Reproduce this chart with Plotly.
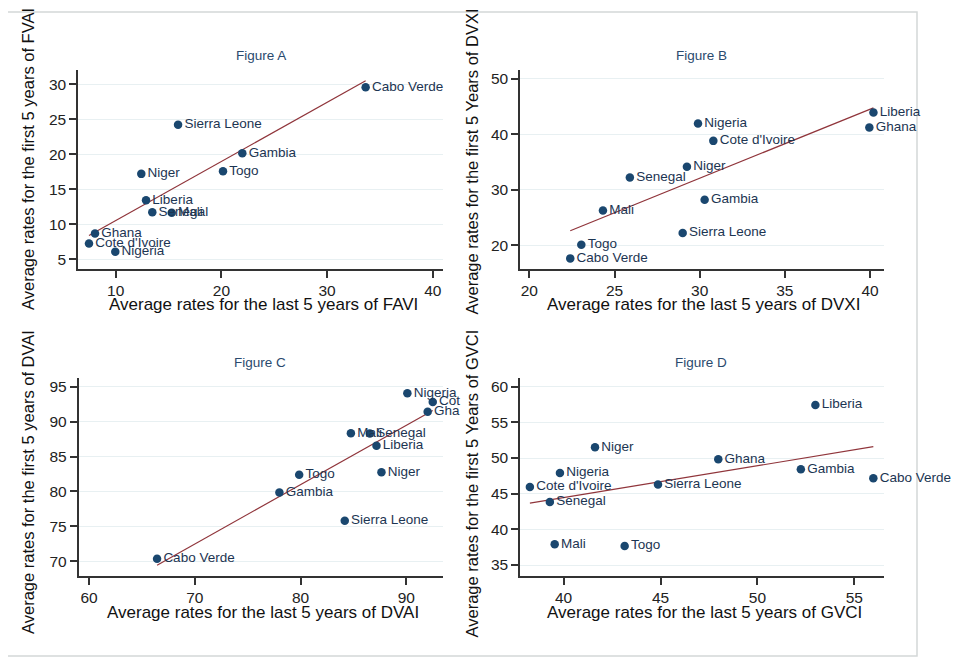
import numpy as np
import plotly.graph_objects as go

# page has an 8px body margin, so the figure is placed at (8, 8)
OFF = 8
W, H = 959 - OFF, 657 - OFF

# ---------------- data ----------------
countries = ["Cabo Verde", "Cote d'Ivoire", "Gambia", "Ghana", "Liberia", "Mali",
             "Niger", "Nigeria", "Senegal", "Sierra Leone", "Togo"]

# Figure A: FAVI (last 5 years) vs FVAI (first 5 years)
favi_last = [33.65, 7.47, 21.98, 8.04, 12.87, 15.3, 12.42, 9.96, 13.46, 15.9, 20.15]
fvai_first = [29.57, 7.24, 20.14, 8.67, 13.43, 11.65, 17.2, 6.09, 11.71, 24.23, 17.57]

# Figure B: DVXI
dvxi_last = [22.4, 30.8, 30.29, 39.96, 40.2, 24.32, 29.25, 29.9, 25.9, 29.0, 23.05]
dvxi_first = [17.66, 38.8, 28.2, 41.2, 43.9, 26.27, 34.14, 41.93, 32.2, 22.23, 20.13]

# Figure C: DVAI
dvai_last = [66.43, 92.5, 78.0, 92.02, 87.18, 84.76, 87.65, 90.1, 86.55, 84.18, 79.87]
dvai_first = [70.37, 92.8, 79.86, 91.43, 86.56, 88.34, 82.77, 94.05, 88.3, 75.8, 82.38]
labels_c = ["Cabo Verde", "Cot", "Gambia", "Gha", "Liberia", "Mali",
            "Niger", "Nigeria", "Senegal", "Sierra Leone", "Togo"]

# Figure D: GVCI
gvci_last = [55.98, 38.26, 52.24, 47.98, 52.99, 39.54, 41.62, 39.81, 39.29, 44.87, 43.15]
gvci_first = [47.15, 45.93, 48.42, 49.82, 57.44, 37.9, 51.5, 47.89, 43.82, 46.3, 37.66]

panel_titles = ["Figure A", "Figure B", "Figure C", "Figure D"]
x_titles = ["Average rates for the last 5 years of FAVI",
            "Average rates for the last 5 years of DVXI",
            "Average rates for the last 5 years of DVAI",
            "Average rates for the last 5 years of GVCI"]
y_titles = ["Average rates for the first 5 years of FVAI",
            "Average rates for the first 5 Years of DVXI",
            "Average rates for the first 5 years of DVAI",
            "Average rates for the first 5 Years of GVCI"]
x_ticks = [[10, 20, 30, 40], [20, 25, 30, 35, 40], [60, 70, 80, 90], [40, 45, 50, 55]]
y_ticks = [[5, 10, 15, 20, 25, 30], [20, 30, 40, 50], [70, 75, 80, 85, 90, 95],
           [35, 40, 45, 50, 55, 60]]

# ---------------- layout helpers (page pixel -> paper) ----------------
def px(x):
    return (x - OFF) / W

def py(y):
    return 1 - (y - OFF) / H

NAVY = "#1a476f"
LINE = "#90353b"
FONT = "Liberation Sans, Arial, sans-serif"

panels = [
    dict(x=favi_last, y=fvai_first, lab=countries,
         xr=[6.43, 40.97], yr=[3.61, 32.04],
         xd=[px(78), px(443)], yd=[py(269), py(70)],
         title=(261, 55), xt=(263, 304), yt=(28, 159)),
    dict(x=dvxi_last, y=dvxi_first, lab=countries,
         xr=[19.45, 40.82], yr=[15.75, 51.55],
         xd=[px(520), px(884)], yd=[py(269), py(70)],
         title=(701, 55), xt=(703, 304), yt=(471.5, 162)),
    dict(x=dvai_last, y=dvai_first, lab=labels_c,
         xr=[59.0, 93.47], yr=[67.9, 96.29],
         xd=[px(78.5), px(443)], yd=[py(576), py(377.7)],
         title=(260, 362), xt=(262.5, 612), yt=(28, 482)),
    dict(x=gvci_last, y=gvci_first, lab=countries,
         xr=[37.75, 56.53], yr=[33.46, 61.26],
         xd=[px(520), px(884)], yd=[py(576), py(377.7)],
         title=(701, 362), xt=(704, 612), yt=(471.5, 484)),
]

fig = go.Figure()
annotations = []
layout_axes = {}

for i, p in enumerate(panels):
    n = "" if i == 0 else str(i + 1)
    xa, ya = "x" + n, "y" + n
    xs = np.array(p["x"], dtype=float)
    ys = np.array(p["y"], dtype=float)
    b1, b0 = np.polyfit(xs, ys, 1)
    xl = np.array([xs.min(), xs.max()])
    fig.add_trace(go.Scatter(x=xl, y=b0 + b1 * xl, mode="lines",
                             line=dict(color=LINE, width=1.2),
                             xaxis=xa, yaxis=ya, hoverinfo="skip"))
    fig.add_trace(go.Scatter(x=xs, y=ys, mode="markers+text", text=p["lab"],
                             textposition="middle right",
                             textfont=dict(family=FONT, size=13.5, color="#1c3552"),
                             marker=dict(color=NAVY, size=8.5),
                             cliponaxis=False, xaxis=xa, yaxis=ya))
    axis_common = dict(showline=True, linecolor="#333333", linewidth=1.5,
                       ticks="outside", ticklen=7, tickwidth=1.5, tickcolor="#333333",
                       tickfont=dict(family=FONT, size=15.5, color="#222222"),
                       zeroline=False, mirror=False)
    layout_axes["xaxis" + n] = dict(domain=p["xd"], range=p["xr"], anchor=ya,
                                    tickvals=x_ticks[i], showgrid=False, **axis_common)
    layout_axes["yaxis" + n] = dict(domain=p["yd"], range=p["yr"], anchor=xa,
                                    tickvals=y_ticks[i], showgrid=True,
                                    gridcolor="#e8f0f2", gridwidth=1.2, **axis_common)
    tx, ty = p["title"]
    annotations.append(dict(text=panel_titles[i], x=px(tx), y=py(ty), xref="paper",
                            yref="paper", showarrow=False, xanchor="center",
                            yanchor="middle",
                            font=dict(family=FONT, size=13.5, color="#2a4a6e")))
    ax, ay = p["xt"]
    annotations.append(dict(text=x_titles[i], x=px(ax), y=py(ay), xref="paper",
                            yref="paper", showarrow=False, xanchor="center",
                            yanchor="middle",
                            font=dict(family=FONT, size=17, color="#111111")))
    yx, yy = p["yt"]
    annotations.append(dict(text=y_titles[i], x=px(yx), y=py(yy), xref="paper",
                            yref="paper", showarrow=False, xanchor="center",
                            yanchor="middle", textangle=-90,
                            font=dict(family=FONT, size=16.5, color="#111111")))

fig.update_layout(
    width=W, height=H,
    margin=dict(l=0, r=0, t=0, b=0),
    paper_bgcolor="white", plot_bgcolor="white",
    showlegend=False,
    annotations=annotations,
    shapes=[dict(type="rect", xref="paper", yref="paper",
                 x0=px(7), x1=px(917), y0=py(656), y1=py(12),
                 line=dict(color="#d4d8d8", width=1.5), layer="below")],
    **layout_axes,
)

fig.write_html("out.html")
